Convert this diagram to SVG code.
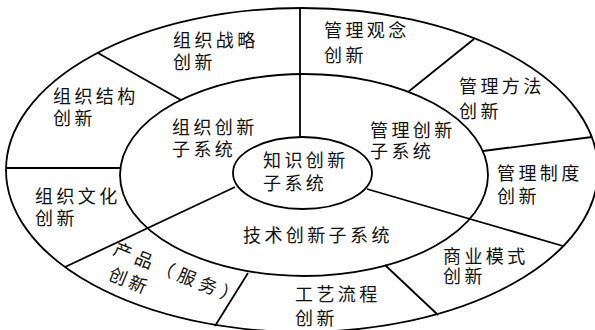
<svg xmlns="http://www.w3.org/2000/svg" width="595" height="330" viewBox="0 0 595 330">
<style>
.ln{fill:none;stroke:#000;stroke-width:1.8}
.t{font-family:"Noto Sans CJK SC","Noto Sans",sans-serif;font-size:18px;letter-spacing:3.4px;fill:#111}
</style>
<rect width="595" height="330" fill="#fff"/>
<g id="rings">
<ellipse class="ln" cx="302" cy="170" rx="296" ry="162"/>
<ellipse class="ln" cx="304" cy="175" rx="184" ry="101"/>
</g>
<g id="connectors">
<line class="ln" x1="300" y1="8" x2="300" y2="137"/>
<line class="ln" x1="98" y1="53" x2="181" y2="100"/>
<line class="ln" x1="7" y1="168" x2="121" y2="168"/>
<line class="ln" x1="235" y1="187" x2="65" y2="267"/>
<line class="ln" x1="248" y1="273" x2="215" y2="326"/>
<line class="ln" x1="385" y1="265" x2="438" y2="315"/>
<line class="ln" x1="367" y1="189" x2="563" y2="246"/>
<line class="ln" x1="483" y1="151" x2="592" y2="137"/>
<line class="ln" x1="408" y1="92" x2="474" y2="39"/>
</g>
<g id="n-core">
<ellipse class="ln" cx="302.5" cy="173" rx="69.5" ry="36" fill="#fff"/>
<text class="t"><tspan x="263" y="167">知识创新</tspan><tspan x="263" y="190">子系统</tspan></text>
</g>
<g id="n-org"><text class="t"><tspan x="172" y="134">组织创新</tspan><tspan x="172" y="156">子系统</tspan></text></g>
<g id="n-mgmt"><text class="t"><tspan x="370" y="137">管理创新</tspan><tspan x="370" y="158">子系统</tspan></text></g>
<g id="n-tech"><text class="t" x="243" y="242">技术创新子系统</text></g>
<g id="n-strategy"><text class="t"><tspan x="173" y="47">组织战略</tspan><tspan x="173" y="69">创新</tspan></text></g>
<g id="n-structure"><text class="t"><tspan x="53" y="103">组织结构</tspan><tspan x="53" y="125">创新</tspan></text></g>
<g id="n-culture"><text class="t"><tspan x="35" y="203">组织文化</tspan><tspan x="35" y="225">创新</tspan></text></g>
<g id="n-concept"><text class="t"><tspan x="324" y="37">管理观念</tspan><tspan x="324" y="62">创新</tspan></text></g>
<g id="n-method"><text class="t"><tspan x="459" y="93">管理方法</tspan><tspan x="459" y="118">创新</tspan></text></g>
<g id="n-system"><text class="t"><tspan x="497" y="180">管理制度</tspan><tspan x="497" y="203">创新</tspan></text></g>
<g id="n-business"><text class="t"><tspan x="443" y="263">商业模式</tspan><tspan x="443" y="283">创新</tspan></text></g>
<g id="n-process"><text class="t"><tspan x="295" y="301">工艺流程</tspan><tspan x="295" y="325">创新</tspan></text></g>
<g id="n-product" transform="translate(112,254) rotate(22)">
<text class="t"><tspan x="0" y="0" style="letter-spacing:5px">产品（服务）</tspan><tspan x="5" y="25">创新</tspan></text>
</g>
</svg>
